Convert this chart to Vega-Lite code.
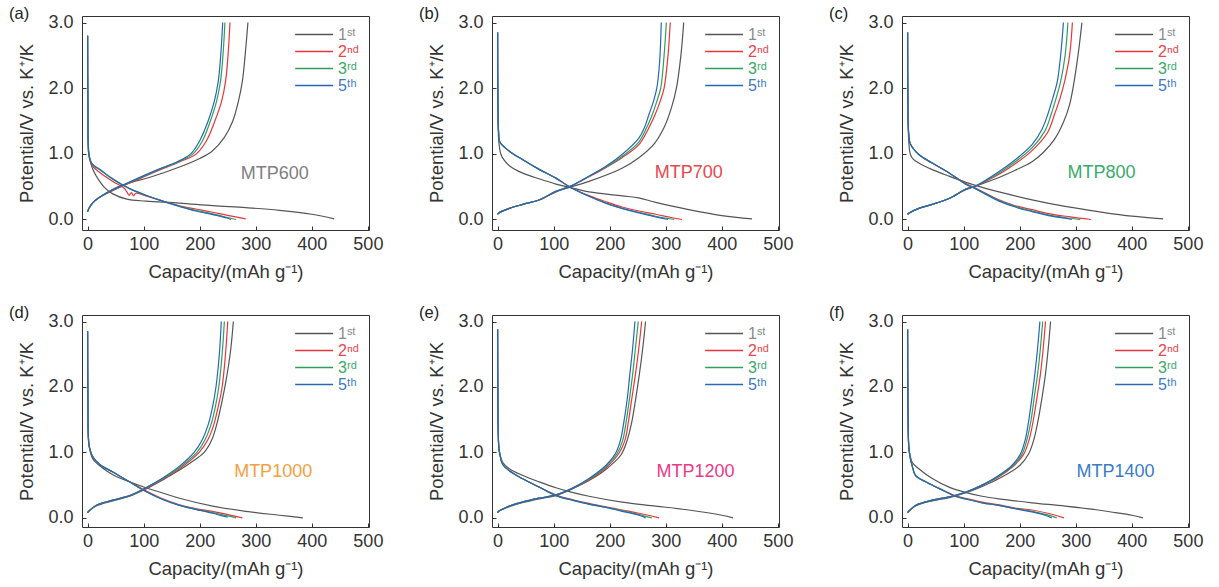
{
"$schema": "https://vega.github.io/schema/vega-lite/v6.json",
"padding": {"left": 8, "top": 5, "right": 4, "bottom": 4},
"background": "white",
"data": {"values": [
{"p":"a","c":"1st","s":"d","x":0,"y":2.8},{"p":"a","c":"1st","s":"d","x":0.5,"y":1.8},{"p":"a","c":"1st","s":"d","x":2,"y":1.05},{"p":"a","c":"1st","s":"d","x":5,"y":0.88},{"p":"a","c":"1st","s":"d","x":10,"y":0.75},{"p":"a","c":"1st","s":"d","x":20,"y":0.6},{"p":"a","c":"1st","s":"d","x":30,"y":0.49},{"p":"a","c":"1st","s":"d","x":45,"y":0.39},{"p":"a","c":"1st","s":"d","x":70,"y":0.31},{"p":"a","c":"1st","s":"d","x":104,"y":0.28},{"p":"a","c":"1st","s":"d","x":164,"y":0.25},{"p":"a","c":"1st","s":"d","x":223,"y":0.21},{"p":"a","c":"1st","s":"d","x":282,"y":0.18},{"p":"a","c":"1st","s":"d","x":342,"y":0.14},{"p":"a","c":"1st","s":"d","x":400,"y":0.08},{"p":"a","c":"1st","s":"d","x":440,"y":0.01},
{"p":"a","c":"2nd","s":"d","x":0,"y":2.8},{"p":"a","c":"2nd","s":"d","x":0.5,"y":1.7},{"p":"a","c":"2nd","s":"d","x":2,"y":1.0},{"p":"a","c":"2nd","s":"d","x":5,"y":0.88},{"p":"a","c":"2nd","s":"d","x":10,"y":0.8},{"p":"a","c":"2nd","s":"d","x":21,"y":0.72},{"p":"a","c":"2nd","s":"d","x":45,"y":0.58},{"p":"a","c":"2nd","s":"d","x":65,"y":0.48},{"p":"a","c":"2nd","s":"d","x":70,"y":0.42},{"p":"a","c":"2nd","s":"d","x":74,"y":0.37},{"p":"a","c":"2nd","s":"d","x":78,"y":0.41},{"p":"a","c":"2nd","s":"d","x":82,"y":0.36},{"p":"a","c":"2nd","s":"d","x":86,"y":0.4},{"p":"a","c":"2nd","s":"d","x":104,"y":0.36},{"p":"a","c":"2nd","s":"d","x":134,"y":0.28},{"p":"a","c":"2nd","s":"d","x":164,"y":0.21},{"p":"a","c":"2nd","s":"d","x":193,"y":0.16},{"p":"a","c":"2nd","s":"d","x":223,"y":0.11},{"p":"a","c":"2nd","s":"d","x":252,"y":0.06},{"p":"a","c":"2nd","s":"d","x":282,"y":0.01},
{"p":"a","c":"3rd","s":"d","x":0,"y":2.8},{"p":"a","c":"3rd","s":"d","x":0.5,"y":1.7},{"p":"a","c":"3rd","s":"d","x":2,"y":1.0},{"p":"a","c":"3rd","s":"d","x":5,"y":0.9},{"p":"a","c":"3rd","s":"d","x":10,"y":0.82},{"p":"a","c":"3rd","s":"d","x":21,"y":0.76},{"p":"a","c":"3rd","s":"d","x":45,"y":0.61},{"p":"a","c":"3rd","s":"d","x":75,"y":0.47},{"p":"a","c":"3rd","s":"d","x":104,"y":0.37},{"p":"a","c":"3rd","s":"d","x":134,"y":0.28},{"p":"a","c":"3rd","s":"d","x":164,"y":0.2},{"p":"a","c":"3rd","s":"d","x":193,"y":0.14},{"p":"a","c":"3rd","s":"d","x":223,"y":0.085},{"p":"a","c":"3rd","s":"d","x":250,"y":0.03},{"p":"a","c":"3rd","s":"d","x":265,"y":0.0},
{"p":"a","c":"5th","s":"d","x":0,"y":2.8},{"p":"a","c":"5th","s":"d","x":0.5,"y":1.7},{"p":"a","c":"5th","s":"d","x":2,"y":1.0},{"p":"a","c":"5th","s":"d","x":5,"y":0.9},{"p":"a","c":"5th","s":"d","x":10,"y":0.83},{"p":"a","c":"5th","s":"d","x":21,"y":0.77},{"p":"a","c":"5th","s":"d","x":45,"y":0.62},{"p":"a","c":"5th","s":"d","x":75,"y":0.47},{"p":"a","c":"5th","s":"d","x":104,"y":0.37},{"p":"a","c":"5th","s":"d","x":134,"y":0.28},{"p":"a","c":"5th","s":"d","x":164,"y":0.2},{"p":"a","c":"5th","s":"d","x":193,"y":0.13},{"p":"a","c":"5th","s":"d","x":223,"y":0.075},{"p":"a","c":"5th","s":"d","x":245,"y":0.03},{"p":"a","c":"5th","s":"d","x":256,"y":0.0},
{"p":"a","c":"1st","s":"c","x":0,"y":0.12},{"p":"a","c":"1st","s":"c","x":3,"y":0.18},{"p":"a","c":"1st","s":"c","x":10,"y":0.26},{"p":"a","c":"1st","s":"c","x":20,"y":0.33},{"p":"a","c":"1st","s":"c","x":45,"y":0.46},{"p":"a","c":"1st","s":"c","x":72,"y":0.55},{"p":"a","c":"1st","s":"c","x":110,"y":0.64},{"p":"a","c":"1st","s":"c","x":164,"y":0.8},{"p":"a","c":"1st","s":"c","x":200,"y":0.93},{"p":"a","c":"1st","s":"c","x":222,"y":1.04},{"p":"a","c":"1st","s":"c","x":244,"y":1.25},{"p":"a","c":"1st","s":"c","x":259,"y":1.5},{"p":"a","c":"1st","s":"c","x":269,"y":1.8},{"p":"a","c":"1st","s":"c","x":276,"y":2.1},{"p":"a","c":"1st","s":"c","x":281,"y":2.5},{"p":"a","c":"1st","s":"c","x":286,"y":3.0},
{"p":"a","c":"2nd","s":"c","x":0,"y":0.12},{"p":"a","c":"2nd","s":"c","x":3,"y":0.18},{"p":"a","c":"2nd","s":"c","x":10,"y":0.26},{"p":"a","c":"2nd","s":"c","x":20,"y":0.33},{"p":"a","c":"2nd","s":"c","x":40,"y":0.42},{"p":"a","c":"2nd","s":"c","x":60,"y":0.5},{"p":"a","c":"2nd","s":"c","x":95,"y":0.63},{"p":"a","c":"2nd","s":"c","x":130,"y":0.76},{"p":"a","c":"2nd","s":"c","x":165,"y":0.88},{"p":"a","c":"2nd","s":"c","x":194,"y":1.0},{"p":"a","c":"2nd","s":"c","x":212,"y":1.2},{"p":"a","c":"2nd","s":"c","x":227,"y":1.5},{"p":"a","c":"2nd","s":"c","x":239,"y":1.8},{"p":"a","c":"2nd","s":"c","x":246,"y":2.1},{"p":"a","c":"2nd","s":"c","x":250.5,"y":2.5},{"p":"a","c":"2nd","s":"c","x":254,"y":3.0},
{"p":"a","c":"3rd","s":"c","x":0,"y":0.12},{"p":"a","c":"3rd","s":"c","x":3,"y":0.18},{"p":"a","c":"3rd","s":"c","x":10,"y":0.26},{"p":"a","c":"3rd","s":"c","x":20,"y":0.33},{"p":"a","c":"3rd","s":"c","x":40,"y":0.43},{"p":"a","c":"3rd","s":"c","x":58,"y":0.5},{"p":"a","c":"3rd","s":"c","x":92,"y":0.63},{"p":"a","c":"3rd","s":"c","x":127,"y":0.76},{"p":"a","c":"3rd","s":"c","x":162,"y":0.88},{"p":"a","c":"3rd","s":"c","x":188,"y":1.0},{"p":"a","c":"3rd","s":"c","x":205,"y":1.2},{"p":"a","c":"3rd","s":"c","x":219,"y":1.5},{"p":"a","c":"3rd","s":"c","x":230,"y":1.8},{"p":"a","c":"3rd","s":"c","x":237,"y":2.1},{"p":"a","c":"3rd","s":"c","x":241.5,"y":2.5},{"p":"a","c":"3rd","s":"c","x":245,"y":3.0},
{"p":"a","c":"5th","s":"c","x":0,"y":0.12},{"p":"a","c":"5th","s":"c","x":3,"y":0.18},{"p":"a","c":"5th","s":"c","x":10,"y":0.26},{"p":"a","c":"5th","s":"c","x":20,"y":0.33},{"p":"a","c":"5th","s":"c","x":40,"y":0.43},{"p":"a","c":"5th","s":"c","x":57,"y":0.5},{"p":"a","c":"5th","s":"c","x":90,"y":0.63},{"p":"a","c":"5th","s":"c","x":125,"y":0.76},{"p":"a","c":"5th","s":"c","x":160,"y":0.88},{"p":"a","c":"5th","s":"c","x":184,"y":1.0},{"p":"a","c":"5th","s":"c","x":200,"y":1.2},{"p":"a","c":"5th","s":"c","x":215,"y":1.5},{"p":"a","c":"5th","s":"c","x":226,"y":1.8},{"p":"a","c":"5th","s":"c","x":233,"y":2.1},{"p":"a","c":"5th","s":"c","x":237.5,"y":2.5},{"p":"a","c":"5th","s":"c","x":241,"y":3.0},

{"p":"b","c":"1st","s":"d","x":0,"y":2.85},{"p":"b","c":"1st","s":"d","x":0.5,"y":1.8},{"p":"b","c":"1st","s":"d","x":2,"y":1.2},{"p":"b","c":"1st","s":"d","x":6,"y":0.99},{"p":"b","c":"1st","s":"d","x":12,"y":0.9},{"p":"b","c":"1st","s":"d","x":21,"y":0.82},{"p":"b","c":"1st","s":"d","x":44,"y":0.71},{"p":"b","c":"1st","s":"d","x":74,"y":0.62},{"p":"b","c":"1st","s":"d","x":104,"y":0.54},{"p":"b","c":"1st","s":"d","x":128,"y":0.49},{"p":"b","c":"1st","s":"d","x":163,"y":0.42},{"p":"b","c":"1st","s":"d","x":222,"y":0.36},{"p":"b","c":"1st","s":"d","x":252,"y":0.33},{"p":"b","c":"1st","s":"d","x":282,"y":0.26},{"p":"b","c":"1st","s":"d","x":341,"y":0.15},{"p":"b","c":"1st","s":"d","x":400,"y":0.06},{"p":"b","c":"1st","s":"d","x":454,"y":0.01},
{"p":"b","c":"2nd","s":"d","x":0,"y":2.85},{"p":"b","c":"2nd","s":"d","x":0.5,"y":1.8},{"p":"b","c":"2nd","s":"d","x":2,"y":1.3},{"p":"b","c":"2nd","s":"d","x":4,"y":1.18},{"p":"b","c":"2nd","s":"d","x":21,"y":1.04},{"p":"b","c":"2nd","s":"d","x":45,"y":0.91},{"p":"b","c":"2nd","s":"d","x":75,"y":0.76},{"p":"b","c":"2nd","s":"d","x":104,"y":0.63},{"p":"b","c":"2nd","s":"d","x":128,"y":0.5},{"p":"b","c":"2nd","s":"d","x":164,"y":0.36},{"p":"b","c":"2nd","s":"d","x":193,"y":0.27},{"p":"b","c":"2nd","s":"d","x":222,"y":0.19},{"p":"b","c":"2nd","s":"d","x":252,"y":0.13},{"p":"b","c":"2nd","s":"d","x":282,"y":0.08},{"p":"b","c":"2nd","s":"d","x":310,"y":0.03},{"p":"b","c":"2nd","s":"d","x":329,"y":0.0},
{"p":"b","c":"3rd","s":"d","x":0,"y":2.85},{"p":"b","c":"3rd","s":"d","x":0.5,"y":1.8},{"p":"b","c":"3rd","s":"d","x":2,"y":1.3},{"p":"b","c":"3rd","s":"d","x":4,"y":1.18},{"p":"b","c":"3rd","s":"d","x":21,"y":1.04},{"p":"b","c":"3rd","s":"d","x":45,"y":0.91},{"p":"b","c":"3rd","s":"d","x":75,"y":0.76},{"p":"b","c":"3rd","s":"d","x":104,"y":0.63},{"p":"b","c":"3rd","s":"d","x":128,"y":0.5},{"p":"b","c":"3rd","s":"d","x":164,"y":0.35},{"p":"b","c":"3rd","s":"d","x":193,"y":0.25},{"p":"b","c":"3rd","s":"d","x":222,"y":0.17},{"p":"b","c":"3rd","s":"d","x":252,"y":0.11},{"p":"b","c":"3rd","s":"d","x":282,"y":0.05},{"p":"b","c":"3rd","s":"d","x":315,"y":0.0},
{"p":"b","c":"5th","s":"d","x":0,"y":2.85},{"p":"b","c":"5th","s":"d","x":0.5,"y":1.8},{"p":"b","c":"5th","s":"d","x":2,"y":1.3},{"p":"b","c":"5th","s":"d","x":4,"y":1.18},{"p":"b","c":"5th","s":"d","x":21,"y":1.04},{"p":"b","c":"5th","s":"d","x":45,"y":0.91},{"p":"b","c":"5th","s":"d","x":75,"y":0.76},{"p":"b","c":"5th","s":"d","x":104,"y":0.63},{"p":"b","c":"5th","s":"d","x":128,"y":0.5},{"p":"b","c":"5th","s":"d","x":164,"y":0.35},{"p":"b","c":"5th","s":"d","x":193,"y":0.25},{"p":"b","c":"5th","s":"d","x":222,"y":0.17},{"p":"b","c":"5th","s":"d","x":252,"y":0.1},{"p":"b","c":"5th","s":"d","x":282,"y":0.04},{"p":"b","c":"5th","s":"d","x":304,"y":0.0},
{"p":"b","c":"1st","s":"c","x":0,"y":0.08},{"p":"b","c":"1st","s":"c","x":2,"y":0.1},{"p":"b","c":"1st","s":"c","x":21,"y":0.17},{"p":"b","c":"1st","s":"c","x":45,"y":0.23},{"p":"b","c":"1st","s":"c","x":75,"y":0.3},{"p":"b","c":"1st","s":"c","x":104,"y":0.42},{"p":"b","c":"1st","s":"c","x":128,"y":0.49},{"p":"b","c":"1st","s":"c","x":163,"y":0.58},{"p":"b","c":"1st","s":"c","x":222,"y":0.78},{"p":"b","c":"1st","s":"c","x":252,"y":0.94},{"p":"b","c":"1st","s":"c","x":280,"y":1.16},{"p":"b","c":"1st","s":"c","x":298,"y":1.42},{"p":"b","c":"1st","s":"c","x":310,"y":1.7},{"p":"b","c":"1st","s":"c","x":319,"y":2.0},{"p":"b","c":"1st","s":"c","x":327,"y":2.5},{"p":"b","c":"1st","s":"c","x":332,"y":3.0},
{"p":"b","c":"2nd","s":"c","x":0,"y":0.08},{"p":"b","c":"2nd","s":"c","x":2,"y":0.1},{"p":"b","c":"2nd","s":"c","x":21,"y":0.17},{"p":"b","c":"2nd","s":"c","x":45,"y":0.23},{"p":"b","c":"2nd","s":"c","x":75,"y":0.3},{"p":"b","c":"2nd","s":"c","x":104,"y":0.43},{"p":"b","c":"2nd","s":"c","x":128,"y":0.5},{"p":"b","c":"2nd","s":"c","x":163,"y":0.65},{"p":"b","c":"2nd","s":"c","x":193,"y":0.79},{"p":"b","c":"2nd","s":"c","x":222,"y":0.94},{"p":"b","c":"2nd","s":"c","x":252,"y":1.14},{"p":"b","c":"2nd","s":"c","x":270,"y":1.4},{"p":"b","c":"2nd","s":"c","x":281,"y":1.6},{"p":"b","c":"2nd","s":"c","x":290,"y":1.8},{"p":"b","c":"2nd","s":"c","x":297,"y":2.0},{"p":"b","c":"2nd","s":"c","x":304,"y":2.5},{"p":"b","c":"2nd","s":"c","x":308,"y":3.0},
{"p":"b","c":"3rd","s":"c","x":0,"y":0.08},{"p":"b","c":"3rd","s":"c","x":2,"y":0.1},{"p":"b","c":"3rd","s":"c","x":21,"y":0.17},{"p":"b","c":"3rd","s":"c","x":45,"y":0.23},{"p":"b","c":"3rd","s":"c","x":75,"y":0.3},{"p":"b","c":"3rd","s":"c","x":104,"y":0.43},{"p":"b","c":"3rd","s":"c","x":128,"y":0.5},{"p":"b","c":"3rd","s":"c","x":163,"y":0.66},{"p":"b","c":"3rd","s":"c","x":193,"y":0.8},{"p":"b","c":"3rd","s":"c","x":222,"y":0.96},{"p":"b","c":"3rd","s":"c","x":252,"y":1.18},{"p":"b","c":"3rd","s":"c","x":266,"y":1.4},{"p":"b","c":"3rd","s":"c","x":276,"y":1.6},{"p":"b","c":"3rd","s":"c","x":284,"y":1.8},{"p":"b","c":"3rd","s":"c","x":291,"y":2.0},{"p":"b","c":"3rd","s":"c","x":297,"y":2.5},{"p":"b","c":"3rd","s":"c","x":301,"y":3.0},
{"p":"b","c":"5th","s":"c","x":0,"y":0.08},{"p":"b","c":"5th","s":"c","x":2,"y":0.1},{"p":"b","c":"5th","s":"c","x":21,"y":0.17},{"p":"b","c":"5th","s":"c","x":45,"y":0.23},{"p":"b","c":"5th","s":"c","x":75,"y":0.3},{"p":"b","c":"5th","s":"c","x":104,"y":0.43},{"p":"b","c":"5th","s":"c","x":128,"y":0.5},{"p":"b","c":"5th","s":"c","x":163,"y":0.66},{"p":"b","c":"5th","s":"c","x":193,"y":0.81},{"p":"b","c":"5th","s":"c","x":222,"y":0.99},{"p":"b","c":"5th","s":"c","x":252,"y":1.24},{"p":"b","c":"5th","s":"c","x":262,"y":1.4},{"p":"b","c":"5th","s":"c","x":270,"y":1.6},{"p":"b","c":"5th","s":"c","x":278,"y":1.8},{"p":"b","c":"5th","s":"c","x":284,"y":2.0},{"p":"b","c":"5th","s":"c","x":289,"y":2.4},{"p":"b","c":"5th","s":"c","x":292,"y":3.0},

{"p":"c","c":"1st","s":"d","x":0,"y":2.85},{"p":"c","c":"1st","s":"d","x":0.5,"y":1.8},{"p":"c","c":"1st","s":"d","x":2,"y":1.2},{"p":"c","c":"1st","s":"d","x":5,"y":0.99},{"p":"c","c":"1st","s":"d","x":10,"y":0.92},{"p":"c","c":"1st","s":"d","x":20,"y":0.86},{"p":"c","c":"1st","s":"d","x":44,"y":0.76},{"p":"c","c":"1st","s":"d","x":74,"y":0.66},{"p":"c","c":"1st","s":"d","x":103,"y":0.57},{"p":"c","c":"1st","s":"d","x":133,"y":0.49},{"p":"c","c":"1st","s":"d","x":163,"y":0.42},{"p":"c","c":"1st","s":"d","x":222,"y":0.3},{"p":"c","c":"1st","s":"d","x":281,"y":0.2},{"p":"c","c":"1st","s":"d","x":340,"y":0.12},{"p":"c","c":"1st","s":"d","x":400,"y":0.05},{"p":"c","c":"1st","s":"d","x":456,"y":0.01},
{"p":"c","c":"2nd","s":"d","x":0,"y":2.85},{"p":"c","c":"2nd","s":"d","x":0.5,"y":1.8},{"p":"c","c":"2nd","s":"d","x":2,"y":1.3},{"p":"c","c":"2nd","s":"d","x":5,"y":1.15},{"p":"c","c":"2nd","s":"d","x":20,"y":0.99},{"p":"c","c":"2nd","s":"d","x":44,"y":0.86},{"p":"c","c":"2nd","s":"d","x":74,"y":0.71},{"p":"c","c":"2nd","s":"d","x":103,"y":0.55},{"p":"c","c":"2nd","s":"d","x":121,"y":0.48},{"p":"c","c":"2nd","s":"d","x":163,"y":0.3},{"p":"c","c":"2nd","s":"d","x":192,"y":0.21},{"p":"c","c":"2nd","s":"d","x":222,"y":0.15},{"p":"c","c":"2nd","s":"d","x":251,"y":0.09},{"p":"c","c":"2nd","s":"d","x":290,"y":0.04},{"p":"c","c":"2nd","s":"d","x":327,"y":0.0},
{"p":"c","c":"3rd","s":"d","x":0,"y":2.85},{"p":"c","c":"3rd","s":"d","x":0.5,"y":1.8},{"p":"c","c":"3rd","s":"d","x":2,"y":1.3},{"p":"c","c":"3rd","s":"d","x":5,"y":1.15},{"p":"c","c":"3rd","s":"d","x":20,"y":0.99},{"p":"c","c":"3rd","s":"d","x":44,"y":0.86},{"p":"c","c":"3rd","s":"d","x":74,"y":0.71},{"p":"c","c":"3rd","s":"d","x":103,"y":0.54},{"p":"c","c":"3rd","s":"d","x":121,"y":0.47},{"p":"c","c":"3rd","s":"d","x":163,"y":0.29},{"p":"c","c":"3rd","s":"d","x":192,"y":0.2},{"p":"c","c":"3rd","s":"d","x":222,"y":0.13},{"p":"c","c":"3rd","s":"d","x":251,"y":0.07},{"p":"c","c":"3rd","s":"d","x":280,"y":0.03},{"p":"c","c":"3rd","s":"d","x":308,"y":0.0},
{"p":"c","c":"5th","s":"d","x":0,"y":2.85},{"p":"c","c":"5th","s":"d","x":0.5,"y":1.8},{"p":"c","c":"5th","s":"d","x":2,"y":1.3},{"p":"c","c":"5th","s":"d","x":5,"y":1.15},{"p":"c","c":"5th","s":"d","x":20,"y":0.99},{"p":"c","c":"5th","s":"d","x":44,"y":0.86},{"p":"c","c":"5th","s":"d","x":74,"y":0.71},{"p":"c","c":"5th","s":"d","x":103,"y":0.54},{"p":"c","c":"5th","s":"d","x":121,"y":0.47},{"p":"c","c":"5th","s":"d","x":163,"y":0.28},{"p":"c","c":"5th","s":"d","x":192,"y":0.19},{"p":"c","c":"5th","s":"d","x":222,"y":0.12},{"p":"c","c":"5th","s":"d","x":251,"y":0.06},{"p":"c","c":"5th","s":"d","x":280,"y":0.02},{"p":"c","c":"5th","s":"d","x":293,"y":0.0},
{"p":"c","c":"1st","s":"c","x":0,"y":0.08},{"p":"c","c":"1st","s":"c","x":3,"y":0.1},{"p":"c","c":"1st","s":"c","x":20,"y":0.17},{"p":"c","c":"1st","s":"c","x":44,"y":0.23},{"p":"c","c":"1st","s":"c","x":74,"y":0.32},{"p":"c","c":"1st","s":"c","x":103,"y":0.45},{"p":"c","c":"1st","s":"c","x":125,"y":0.52},{"p":"c","c":"1st","s":"c","x":163,"y":0.64},{"p":"c","c":"1st","s":"c","x":192,"y":0.75},{"p":"c","c":"1st","s":"c","x":222,"y":0.88},{"p":"c","c":"1st","s":"c","x":242,"y":1.02},{"p":"c","c":"1st","s":"c","x":262,"y":1.22},{"p":"c","c":"1st","s":"c","x":278,"y":1.48},{"p":"c","c":"1st","s":"c","x":289,"y":1.75},{"p":"c","c":"1st","s":"c","x":296,"y":2.05},{"p":"c","c":"1st","s":"c","x":304,"y":2.5},{"p":"c","c":"1st","s":"c","x":311,"y":3.0},
{"p":"c","c":"2nd","s":"c","x":0,"y":0.08},{"p":"c","c":"2nd","s":"c","x":3,"y":0.1},{"p":"c","c":"2nd","s":"c","x":20,"y":0.17},{"p":"c","c":"2nd","s":"c","x":44,"y":0.23},{"p":"c","c":"2nd","s":"c","x":74,"y":0.32},{"p":"c","c":"2nd","s":"c","x":103,"y":0.46},{"p":"c","c":"2nd","s":"c","x":121,"y":0.51},{"p":"c","c":"2nd","s":"c","x":163,"y":0.69},{"p":"c","c":"2nd","s":"c","x":192,"y":0.85},{"p":"c","c":"2nd","s":"c","x":222,"y":1.05},{"p":"c","c":"2nd","s":"c","x":250,"y":1.33},{"p":"c","c":"2nd","s":"c","x":262,"y":1.6},{"p":"c","c":"2nd","s":"c","x":272,"y":1.85},{"p":"c","c":"2nd","s":"c","x":280,"y":2.1},{"p":"c","c":"2nd","s":"c","x":289,"y":2.5},{"p":"c","c":"2nd","s":"c","x":294,"y":3.0},
{"p":"c","c":"3rd","s":"c","x":0,"y":0.08},{"p":"c","c":"3rd","s":"c","x":3,"y":0.1},{"p":"c","c":"3rd","s":"c","x":20,"y":0.17},{"p":"c","c":"3rd","s":"c","x":44,"y":0.23},{"p":"c","c":"3rd","s":"c","x":74,"y":0.32},{"p":"c","c":"3rd","s":"c","x":103,"y":0.46},{"p":"c","c":"3rd","s":"c","x":121,"y":0.51},{"p":"c","c":"3rd","s":"c","x":163,"y":0.71},{"p":"c","c":"3rd","s":"c","x":192,"y":0.88},{"p":"c","c":"3rd","s":"c","x":222,"y":1.09},{"p":"c","c":"3rd","s":"c","x":245,"y":1.35},{"p":"c","c":"3rd","s":"c","x":256,"y":1.6},{"p":"c","c":"3rd","s":"c","x":265,"y":1.85},{"p":"c","c":"3rd","s":"c","x":273,"y":2.1},{"p":"c","c":"3rd","s":"c","x":281,"y":2.5},{"p":"c","c":"3rd","s":"c","x":286,"y":3.0},
{"p":"c","c":"5th","s":"c","x":0,"y":0.08},{"p":"c","c":"5th","s":"c","x":3,"y":0.1},{"p":"c","c":"5th","s":"c","x":20,"y":0.17},{"p":"c","c":"5th","s":"c","x":44,"y":0.23},{"p":"c","c":"5th","s":"c","x":74,"y":0.32},{"p":"c","c":"5th","s":"c","x":103,"y":0.46},{"p":"c","c":"5th","s":"c","x":121,"y":0.51},{"p":"c","c":"5th","s":"c","x":163,"y":0.73},{"p":"c","c":"5th","s":"c","x":192,"y":0.91},{"p":"c","c":"5th","s":"c","x":222,"y":1.14},{"p":"c","c":"5th","s":"c","x":240,"y":1.38},{"p":"c","c":"5th","s":"c","x":250,"y":1.6},{"p":"c","c":"5th","s":"c","x":259,"y":1.85},{"p":"c","c":"5th","s":"c","x":267,"y":2.1},{"p":"c","c":"5th","s":"c","x":273,"y":2.5},{"p":"c","c":"5th","s":"c","x":278,"y":3.0},

{"p":"d","c":"1st","s":"d","x":0,"y":2.85},{"p":"d","c":"1st","s":"d","x":0.5,"y":1.8},{"p":"d","c":"1st","s":"d","x":2,"y":1.15},{"p":"d","c":"1st","s":"d","x":5,"y":1.0},{"p":"d","c":"1st","s":"d","x":9.5,"y":0.9},{"p":"d","c":"1st","s":"d","x":21,"y":0.8},{"p":"d","c":"1st","s":"d","x":45,"y":0.66},{"p":"d","c":"1st","s":"d","x":75,"y":0.55},{"p":"d","c":"1st","s":"d","x":104,"y":0.46},{"p":"d","c":"1st","s":"d","x":134,"y":0.38},{"p":"d","c":"1st","s":"d","x":164,"y":0.3},{"p":"d","c":"1st","s":"d","x":223,"y":0.18},{"p":"d","c":"1st","s":"d","x":282,"y":0.1},{"p":"d","c":"1st","s":"d","x":342,"y":0.04},{"p":"d","c":"1st","s":"d","x":384,"y":0.0},
{"p":"d","c":"2nd","s":"d","x":0,"y":2.85},{"p":"d","c":"2nd","s":"d","x":0.5,"y":1.8},{"p":"d","c":"2nd","s":"d","x":2,"y":1.15},{"p":"d","c":"2nd","s":"d","x":5,"y":1.02},{"p":"d","c":"2nd","s":"d","x":9.5,"y":0.93},{"p":"d","c":"2nd","s":"d","x":21,"y":0.82},{"p":"d","c":"2nd","s":"d","x":45,"y":0.7},{"p":"d","c":"2nd","s":"d","x":75,"y":0.55},{"p":"d","c":"2nd","s":"d","x":98,"y":0.44},{"p":"d","c":"2nd","s":"d","x":134,"y":0.29},{"p":"d","c":"2nd","s":"d","x":164,"y":0.2},{"p":"d","c":"2nd","s":"d","x":193,"y":0.14},{"p":"d","c":"2nd","s":"d","x":223,"y":0.1},{"p":"d","c":"2nd","s":"d","x":250,"y":0.05},{"p":"d","c":"2nd","s":"d","x":276,"y":0.0},
{"p":"d","c":"3rd","s":"d","x":0,"y":2.85},{"p":"d","c":"3rd","s":"d","x":0.5,"y":1.8},{"p":"d","c":"3rd","s":"d","x":2,"y":1.15},{"p":"d","c":"3rd","s":"d","x":5,"y":1.02},{"p":"d","c":"3rd","s":"d","x":9.5,"y":0.93},{"p":"d","c":"3rd","s":"d","x":21,"y":0.82},{"p":"d","c":"3rd","s":"d","x":45,"y":0.7},{"p":"d","c":"3rd","s":"d","x":75,"y":0.55},{"p":"d","c":"3rd","s":"d","x":98,"y":0.43},{"p":"d","c":"3rd","s":"d","x":134,"y":0.28},{"p":"d","c":"3rd","s":"d","x":164,"y":0.19},{"p":"d","c":"3rd","s":"d","x":193,"y":0.13},{"p":"d","c":"3rd","s":"d","x":223,"y":0.08},{"p":"d","c":"3rd","s":"d","x":250,"y":0.03},{"p":"d","c":"3rd","s":"d","x":265,"y":0.0},
{"p":"d","c":"5th","s":"d","x":0,"y":2.85},{"p":"d","c":"5th","s":"d","x":0.5,"y":1.8},{"p":"d","c":"5th","s":"d","x":2,"y":1.15},{"p":"d","c":"5th","s":"d","x":5,"y":1.02},{"p":"d","c":"5th","s":"d","x":9.5,"y":0.93},{"p":"d","c":"5th","s":"d","x":21,"y":0.82},{"p":"d","c":"5th","s":"d","x":45,"y":0.7},{"p":"d","c":"5th","s":"d","x":75,"y":0.55},{"p":"d","c":"5th","s":"d","x":98,"y":0.43},{"p":"d","c":"5th","s":"d","x":134,"y":0.28},{"p":"d","c":"5th","s":"d","x":164,"y":0.19},{"p":"d","c":"5th","s":"d","x":193,"y":0.13},{"p":"d","c":"5th","s":"d","x":223,"y":0.07},{"p":"d","c":"5th","s":"d","x":240,"y":0.03},{"p":"d","c":"5th","s":"d","x":250,"y":0.01},
{"p":"d","c":"1st","s":"c","x":0,"y":0.08},{"p":"d","c":"1st","s":"c","x":2,"y":0.1},{"p":"d","c":"1st","s":"c","x":15,"y":0.18},{"p":"d","c":"1st","s":"c","x":45,"y":0.26},{"p":"d","c":"1st","s":"c","x":75,"y":0.33},{"p":"d","c":"1st","s":"c","x":104,"y":0.44},{"p":"d","c":"1st","s":"c","x":134,"y":0.58},{"p":"d","c":"1st","s":"c","x":164,"y":0.73},{"p":"d","c":"1st","s":"c","x":190,"y":0.88},{"p":"d","c":"1st","s":"c","x":208,"y":1.0},{"p":"d","c":"1st","s":"c","x":222,"y":1.2},{"p":"d","c":"1st","s":"c","x":231,"y":1.45},{"p":"d","c":"1st","s":"c","x":239,"y":1.75},{"p":"d","c":"1st","s":"c","x":247,"y":2.1},{"p":"d","c":"1st","s":"c","x":255,"y":2.55},{"p":"d","c":"1st","s":"c","x":260,"y":3.0},
{"p":"d","c":"2nd","s":"c","x":0,"y":0.08},{"p":"d","c":"2nd","s":"c","x":2,"y":0.1},{"p":"d","c":"2nd","s":"c","x":15,"y":0.19},{"p":"d","c":"2nd","s":"c","x":45,"y":0.27},{"p":"d","c":"2nd","s":"c","x":75,"y":0.34},{"p":"d","c":"2nd","s":"c","x":104,"y":0.45},{"p":"d","c":"2nd","s":"c","x":134,"y":0.59},{"p":"d","c":"2nd","s":"c","x":164,"y":0.75},{"p":"d","c":"2nd","s":"c","x":199,"y":1.0},{"p":"d","c":"2nd","s":"c","x":215,"y":1.2},{"p":"d","c":"2nd","s":"c","x":225,"y":1.42},{"p":"d","c":"2nd","s":"c","x":233,"y":1.7},{"p":"d","c":"2nd","s":"c","x":240,"y":2.0},{"p":"d","c":"2nd","s":"c","x":246,"y":2.5},{"p":"d","c":"2nd","s":"c","x":250,"y":3.0},
{"p":"d","c":"3rd","s":"c","x":0,"y":0.08},{"p":"d","c":"3rd","s":"c","x":2,"y":0.1},{"p":"d","c":"3rd","s":"c","x":15,"y":0.19},{"p":"d","c":"3rd","s":"c","x":45,"y":0.27},{"p":"d","c":"3rd","s":"c","x":75,"y":0.34},{"p":"d","c":"3rd","s":"c","x":104,"y":0.46},{"p":"d","c":"3rd","s":"c","x":134,"y":0.6},{"p":"d","c":"3rd","s":"c","x":164,"y":0.77},{"p":"d","c":"3rd","s":"c","x":195,"y":1.0},{"p":"d","c":"3rd","s":"c","x":210,"y":1.2},{"p":"d","c":"3rd","s":"c","x":220,"y":1.42},{"p":"d","c":"3rd","s":"c","x":228,"y":1.7},{"p":"d","c":"3rd","s":"c","x":234,"y":2.0},{"p":"d","c":"3rd","s":"c","x":240,"y":2.5},{"p":"d","c":"3rd","s":"c","x":244,"y":3.0},
{"p":"d","c":"5th","s":"c","x":0,"y":0.08},{"p":"d","c":"5th","s":"c","x":2,"y":0.1},{"p":"d","c":"5th","s":"c","x":15,"y":0.19},{"p":"d","c":"5th","s":"c","x":45,"y":0.27},{"p":"d","c":"5th","s":"c","x":75,"y":0.34},{"p":"d","c":"5th","s":"c","x":104,"y":0.46},{"p":"d","c":"5th","s":"c","x":134,"y":0.61},{"p":"d","c":"5th","s":"c","x":164,"y":0.79},{"p":"d","c":"5th","s":"c","x":190,"y":1.0},{"p":"d","c":"5th","s":"c","x":205,"y":1.2},{"p":"d","c":"5th","s":"c","x":215,"y":1.42},{"p":"d","c":"5th","s":"c","x":223,"y":1.7},{"p":"d","c":"5th","s":"c","x":229,"y":2.0},{"p":"d","c":"5th","s":"c","x":235,"y":2.5},{"p":"d","c":"5th","s":"c","x":238.5,"y":3.0},

{"p":"e","c":"1st","s":"d","x":0,"y":2.88},{"p":"e","c":"1st","s":"d","x":0.5,"y":1.8},{"p":"e","c":"1st","s":"d","x":2,"y":1.1},{"p":"e","c":"1st","s":"d","x":4,"y":0.98},{"p":"e","c":"1st","s":"d","x":9,"y":0.85},{"p":"e","c":"1st","s":"d","x":21,"y":0.75},{"p":"e","c":"1st","s":"d","x":44,"y":0.65},{"p":"e","c":"1st","s":"d","x":74,"y":0.55},{"p":"e","c":"1st","s":"d","x":104,"y":0.46},{"p":"e","c":"1st","s":"d","x":133,"y":0.39},{"p":"e","c":"1st","s":"d","x":163,"y":0.33},{"p":"e","c":"1st","s":"d","x":222,"y":0.24},{"p":"e","c":"1st","s":"d","x":282,"y":0.18},{"p":"e","c":"1st","s":"d","x":341,"y":0.12},{"p":"e","c":"1st","s":"d","x":400,"y":0.04},{"p":"e","c":"1st","s":"d","x":420,"y":0.0},
{"p":"e","c":"2nd","s":"d","x":0,"y":2.88},{"p":"e","c":"2nd","s":"d","x":0.5,"y":1.8},{"p":"e","c":"2nd","s":"d","x":2,"y":1.1},{"p":"e","c":"2nd","s":"d","x":4,"y":0.97},{"p":"e","c":"2nd","s":"d","x":9,"y":0.82},{"p":"e","c":"2nd","s":"d","x":21,"y":0.72},{"p":"e","c":"2nd","s":"d","x":44,"y":0.6},{"p":"e","c":"2nd","s":"d","x":74,"y":0.47},{"p":"e","c":"2nd","s":"d","x":104,"y":0.35},{"p":"e","c":"2nd","s":"d","x":133,"y":0.28},{"p":"e","c":"2nd","s":"d","x":163,"y":0.22},{"p":"e","c":"2nd","s":"d","x":193,"y":0.17},{"p":"e","c":"2nd","s":"d","x":222,"y":0.12},{"p":"e","c":"2nd","s":"d","x":252,"y":0.07},{"p":"e","c":"2nd","s":"d","x":288,"y":0.0},
{"p":"e","c":"3rd","s":"d","x":0,"y":2.88},{"p":"e","c":"3rd","s":"d","x":0.5,"y":1.8},{"p":"e","c":"3rd","s":"d","x":2,"y":1.1},{"p":"e","c":"3rd","s":"d","x":4,"y":0.97},{"p":"e","c":"3rd","s":"d","x":9,"y":0.82},{"p":"e","c":"3rd","s":"d","x":21,"y":0.72},{"p":"e","c":"3rd","s":"d","x":44,"y":0.6},{"p":"e","c":"3rd","s":"d","x":74,"y":0.47},{"p":"e","c":"3rd","s":"d","x":104,"y":0.34},{"p":"e","c":"3rd","s":"d","x":133,"y":0.27},{"p":"e","c":"3rd","s":"d","x":163,"y":0.21},{"p":"e","c":"3rd","s":"d","x":193,"y":0.16},{"p":"e","c":"3rd","s":"d","x":222,"y":0.11},{"p":"e","c":"3rd","s":"d","x":252,"y":0.05},{"p":"e","c":"3rd","s":"d","x":275,"y":0.0},
{"p":"e","c":"5th","s":"d","x":0,"y":2.88},{"p":"e","c":"5th","s":"d","x":0.5,"y":1.8},{"p":"e","c":"5th","s":"d","x":2,"y":1.1},{"p":"e","c":"5th","s":"d","x":4,"y":0.97},{"p":"e","c":"5th","s":"d","x":9,"y":0.82},{"p":"e","c":"5th","s":"d","x":21,"y":0.72},{"p":"e","c":"5th","s":"d","x":44,"y":0.6},{"p":"e","c":"5th","s":"d","x":74,"y":0.47},{"p":"e","c":"5th","s":"d","x":104,"y":0.34},{"p":"e","c":"5th","s":"d","x":133,"y":0.27},{"p":"e","c":"5th","s":"d","x":163,"y":0.21},{"p":"e","c":"5th","s":"d","x":193,"y":0.16},{"p":"e","c":"5th","s":"d","x":222,"y":0.1},{"p":"e","c":"5th","s":"d","x":252,"y":0.04},{"p":"e","c":"5th","s":"d","x":264,"y":0.0},
{"p":"e","c":"1st","s":"c","x":0,"y":0.08},{"p":"e","c":"1st","s":"c","x":2,"y":0.1},{"p":"e","c":"1st","s":"c","x":21,"y":0.17},{"p":"e","c":"1st","s":"c","x":44,"y":0.23},{"p":"e","c":"1st","s":"c","x":74,"y":0.29},{"p":"e","c":"1st","s":"c","x":104,"y":0.34},{"p":"e","c":"1st","s":"c","x":133,"y":0.44},{"p":"e","c":"1st","s":"c","x":163,"y":0.57},{"p":"e","c":"1st","s":"c","x":193,"y":0.74},{"p":"e","c":"1st","s":"c","x":220,"y":0.96},{"p":"e","c":"1st","s":"c","x":231,"y":1.18},{"p":"e","c":"1st","s":"c","x":239,"y":1.45},{"p":"e","c":"1st","s":"c","x":246,"y":1.8},{"p":"e","c":"1st","s":"c","x":253,"y":2.2},{"p":"e","c":"1st","s":"c","x":259,"y":2.6},{"p":"e","c":"1st","s":"c","x":264,"y":3.0},
{"p":"e","c":"2nd","s":"c","x":0,"y":0.08},{"p":"e","c":"2nd","s":"c","x":2,"y":0.1},{"p":"e","c":"2nd","s":"c","x":21,"y":0.18},{"p":"e","c":"2nd","s":"c","x":44,"y":0.24},{"p":"e","c":"2nd","s":"c","x":74,"y":0.3},{"p":"e","c":"2nd","s":"c","x":104,"y":0.35},{"p":"e","c":"2nd","s":"c","x":133,"y":0.45},{"p":"e","c":"2nd","s":"c","x":163,"y":0.58},{"p":"e","c":"2nd","s":"c","x":193,"y":0.76},{"p":"e","c":"2nd","s":"c","x":216,"y":0.98},{"p":"e","c":"2nd","s":"c","x":227,"y":1.18},{"p":"e","c":"2nd","s":"c","x":233,"y":1.45},{"p":"e","c":"2nd","s":"c","x":239,"y":1.8},{"p":"e","c":"2nd","s":"c","x":246,"y":2.2},{"p":"e","c":"2nd","s":"c","x":252,"y":2.6},{"p":"e","c":"2nd","s":"c","x":257,"y":3.0},
{"p":"e","c":"3rd","s":"c","x":0,"y":0.08},{"p":"e","c":"3rd","s":"c","x":2,"y":0.1},{"p":"e","c":"3rd","s":"c","x":21,"y":0.18},{"p":"e","c":"3rd","s":"c","x":44,"y":0.24},{"p":"e","c":"3rd","s":"c","x":74,"y":0.3},{"p":"e","c":"3rd","s":"c","x":104,"y":0.35},{"p":"e","c":"3rd","s":"c","x":133,"y":0.45},{"p":"e","c":"3rd","s":"c","x":163,"y":0.59},{"p":"e","c":"3rd","s":"c","x":193,"y":0.78},{"p":"e","c":"3rd","s":"c","x":213,"y":0.98},{"p":"e","c":"3rd","s":"c","x":223,"y":1.18},{"p":"e","c":"3rd","s":"c","x":229,"y":1.45},{"p":"e","c":"3rd","s":"c","x":235,"y":1.8},{"p":"e","c":"3rd","s":"c","x":241,"y":2.2},{"p":"e","c":"3rd","s":"c","x":246,"y":2.6},{"p":"e","c":"3rd","s":"c","x":251,"y":3.0},
{"p":"e","c":"5th","s":"c","x":0,"y":0.08},{"p":"e","c":"5th","s":"c","x":2,"y":0.1},{"p":"e","c":"5th","s":"c","x":21,"y":0.18},{"p":"e","c":"5th","s":"c","x":44,"y":0.24},{"p":"e","c":"5th","s":"c","x":74,"y":0.3},{"p":"e","c":"5th","s":"c","x":104,"y":0.35},{"p":"e","c":"5th","s":"c","x":133,"y":0.45},{"p":"e","c":"5th","s":"c","x":163,"y":0.6},{"p":"e","c":"5th","s":"c","x":193,"y":0.8},{"p":"e","c":"5th","s":"c","x":210,"y":0.98},{"p":"e","c":"5th","s":"c","x":219,"y":1.18},{"p":"e","c":"5th","s":"c","x":225,"y":1.45},{"p":"e","c":"5th","s":"c","x":231,"y":1.8},{"p":"e","c":"5th","s":"c","x":236,"y":2.2},{"p":"e","c":"5th","s":"c","x":241,"y":2.6},{"p":"e","c":"5th","s":"c","x":245,"y":3.0},

{"p":"f","c":"1st","s":"d","x":0,"y":2.88},{"p":"f","c":"1st","s":"d","x":0.5,"y":1.8},{"p":"f","c":"1st","s":"d","x":2,"y":1.1},{"p":"f","c":"1st","s":"d","x":4,"y":0.97},{"p":"f","c":"1st","s":"d","x":8,"y":0.85},{"p":"f","c":"1st","s":"d","x":20,"y":0.75},{"p":"f","c":"1st","s":"d","x":44,"y":0.6},{"p":"f","c":"1st","s":"d","x":74,"y":0.47},{"p":"f","c":"1st","s":"d","x":103,"y":0.39},{"p":"f","c":"1st","s":"d","x":133,"y":0.33},{"p":"f","c":"1st","s":"d","x":163,"y":0.29},{"p":"f","c":"1st","s":"d","x":222,"y":0.23},{"p":"f","c":"1st","s":"d","x":281,"y":0.18},{"p":"f","c":"1st","s":"d","x":340,"y":0.12},{"p":"f","c":"1st","s":"d","x":370,"y":0.08},{"p":"f","c":"1st","s":"d","x":400,"y":0.04},{"p":"f","c":"1st","s":"d","x":420,"y":0.0},
{"p":"f","c":"2nd","s":"d","x":0,"y":2.88},{"p":"f","c":"2nd","s":"d","x":0.5,"y":1.8},{"p":"f","c":"2nd","s":"d","x":2,"y":1.1},{"p":"f","c":"2nd","s":"d","x":4,"y":0.95},{"p":"f","c":"2nd","s":"d","x":8,"y":0.8},{"p":"f","c":"2nd","s":"d","x":14,"y":0.65},{"p":"f","c":"2nd","s":"d","x":32,"y":0.55},{"p":"f","c":"2nd","s":"d","x":56,"y":0.45},{"p":"f","c":"2nd","s":"d","x":85,"y":0.34},{"p":"f","c":"2nd","s":"d","x":103,"y":0.3},{"p":"f","c":"2nd","s":"d","x":133,"y":0.24},{"p":"f","c":"2nd","s":"d","x":163,"y":0.2},{"p":"f","c":"2nd","s":"d","x":192,"y":0.15},{"p":"f","c":"2nd","s":"d","x":222,"y":0.12},{"p":"f","c":"2nd","s":"d","x":250,"y":0.07},{"p":"f","c":"2nd","s":"d","x":279,"y":0.0},
{"p":"f","c":"3rd","s":"d","x":0,"y":2.88},{"p":"f","c":"3rd","s":"d","x":0.5,"y":1.8},{"p":"f","c":"3rd","s":"d","x":2,"y":1.1},{"p":"f","c":"3rd","s":"d","x":4,"y":0.95},{"p":"f","c":"3rd","s":"d","x":8,"y":0.8},{"p":"f","c":"3rd","s":"d","x":14,"y":0.65},{"p":"f","c":"3rd","s":"d","x":32,"y":0.55},{"p":"f","c":"3rd","s":"d","x":56,"y":0.45},{"p":"f","c":"3rd","s":"d","x":85,"y":0.33},{"p":"f","c":"3rd","s":"d","x":103,"y":0.29},{"p":"f","c":"3rd","s":"d","x":133,"y":0.23},{"p":"f","c":"3rd","s":"d","x":163,"y":0.19},{"p":"f","c":"3rd","s":"d","x":192,"y":0.14},{"p":"f","c":"3rd","s":"d","x":222,"y":0.1},{"p":"f","c":"3rd","s":"d","x":248,"y":0.05},{"p":"f","c":"3rd","s":"d","x":266,"y":0.0},
{"p":"f","c":"5th","s":"d","x":0,"y":2.88},{"p":"f","c":"5th","s":"d","x":0.5,"y":1.8},{"p":"f","c":"5th","s":"d","x":2,"y":1.1},{"p":"f","c":"5th","s":"d","x":4,"y":0.95},{"p":"f","c":"5th","s":"d","x":8,"y":0.8},{"p":"f","c":"5th","s":"d","x":14,"y":0.65},{"p":"f","c":"5th","s":"d","x":32,"y":0.55},{"p":"f","c":"5th","s":"d","x":56,"y":0.45},{"p":"f","c":"5th","s":"d","x":85,"y":0.33},{"p":"f","c":"5th","s":"d","x":103,"y":0.29},{"p":"f","c":"5th","s":"d","x":133,"y":0.23},{"p":"f","c":"5th","s":"d","x":163,"y":0.19},{"p":"f","c":"5th","s":"d","x":192,"y":0.14},{"p":"f","c":"5th","s":"d","x":222,"y":0.09},{"p":"f","c":"5th","s":"d","x":245,"y":0.04},{"p":"f","c":"5th","s":"d","x":257,"y":0.0},
{"p":"f","c":"1st","s":"c","x":0,"y":0.08},{"p":"f","c":"1st","s":"c","x":2,"y":0.1},{"p":"f","c":"1st","s":"c","x":14,"y":0.18},{"p":"f","c":"1st","s":"c","x":44,"y":0.26},{"p":"f","c":"1st","s":"c","x":74,"y":0.31},{"p":"f","c":"1st","s":"c","x":103,"y":0.38},{"p":"f","c":"1st","s":"c","x":133,"y":0.48},{"p":"f","c":"1st","s":"c","x":163,"y":0.6},{"p":"f","c":"1st","s":"c","x":200,"y":0.8},{"p":"f","c":"1st","s":"c","x":216,"y":0.98},{"p":"f","c":"1st","s":"c","x":226,"y":1.22},{"p":"f","c":"1st","s":"c","x":233,"y":1.5},{"p":"f","c":"1st","s":"c","x":240,"y":1.85},{"p":"f","c":"1st","s":"c","x":246,"y":2.2},{"p":"f","c":"1st","s":"c","x":251,"y":2.6},{"p":"f","c":"1st","s":"c","x":255,"y":3.0},
{"p":"f","c":"2nd","s":"c","x":0,"y":0.08},{"p":"f","c":"2nd","s":"c","x":2,"y":0.1},{"p":"f","c":"2nd","s":"c","x":14,"y":0.19},{"p":"f","c":"2nd","s":"c","x":44,"y":0.27},{"p":"f","c":"2nd","s":"c","x":74,"y":0.32},{"p":"f","c":"2nd","s":"c","x":103,"y":0.39},{"p":"f","c":"2nd","s":"c","x":133,"y":0.5},{"p":"f","c":"2nd","s":"c","x":163,"y":0.63},{"p":"f","c":"2nd","s":"c","x":190,"y":0.8},{"p":"f","c":"2nd","s":"c","x":207,"y":0.97},{"p":"f","c":"2nd","s":"c","x":217,"y":1.2},{"p":"f","c":"2nd","s":"c","x":224,"y":1.48},{"p":"f","c":"2nd","s":"c","x":231,"y":1.85},{"p":"f","c":"2nd","s":"c","x":237,"y":2.2},{"p":"f","c":"2nd","s":"c","x":242,"y":2.6},{"p":"f","c":"2nd","s":"c","x":246,"y":3.0},
{"p":"f","c":"3rd","s":"c","x":0,"y":0.08},{"p":"f","c":"3rd","s":"c","x":2,"y":0.1},{"p":"f","c":"3rd","s":"c","x":14,"y":0.19},{"p":"f","c":"3rd","s":"c","x":44,"y":0.27},{"p":"f","c":"3rd","s":"c","x":74,"y":0.32},{"p":"f","c":"3rd","s":"c","x":103,"y":0.39},{"p":"f","c":"3rd","s":"c","x":133,"y":0.5},{"p":"f","c":"3rd","s":"c","x":163,"y":0.64},{"p":"f","c":"3rd","s":"c","x":188,"y":0.8},{"p":"f","c":"3rd","s":"c","x":204,"y":0.97},{"p":"f","c":"3rd","s":"c","x":213,"y":1.2},{"p":"f","c":"3rd","s":"c","x":220,"y":1.48},{"p":"f","c":"3rd","s":"c","x":226,"y":1.85},{"p":"f","c":"3rd","s":"c","x":232,"y":2.2},{"p":"f","c":"3rd","s":"c","x":237,"y":2.6},{"p":"f","c":"3rd","s":"c","x":241,"y":3.0},
{"p":"f","c":"5th","s":"c","x":0,"y":0.08},{"p":"f","c":"5th","s":"c","x":2,"y":0.1},{"p":"f","c":"5th","s":"c","x":14,"y":0.19},{"p":"f","c":"5th","s":"c","x":44,"y":0.27},{"p":"f","c":"5th","s":"c","x":74,"y":0.32},{"p":"f","c":"5th","s":"c","x":103,"y":0.39},{"p":"f","c":"5th","s":"c","x":133,"y":0.5},{"p":"f","c":"5th","s":"c","x":163,"y":0.65},{"p":"f","c":"5th","s":"c","x":186,"y":0.8},{"p":"f","c":"5th","s":"c","x":201,"y":0.97},{"p":"f","c":"5th","s":"c","x":210,"y":1.2},{"p":"f","c":"5th","s":"c","x":216,"y":1.48},{"p":"f","c":"5th","s":"c","x":222,"y":1.85},{"p":"f","c":"5th","s":"c","x":227,"y":2.2},{"p":"f","c":"5th","s":"c","x":232,"y":2.6},{"p":"f","c":"5th","s":"c","x":236,"y":3.0}
]},
"columns": 3,
"spacing": {"row": 23, "column": 34},
"resolve": {"legend": {"stroke": "independent"}},
"concat": [
{"width": 287, "height": 214, "title": "(a)", "transform": [{"filter": "datum.p == 'a'"}],
 "layer": [
  {"mark": {"type": "line", "strokeWidth": 1.2, "interpolate": "catmull-rom"},
   "encoding": {
    "x": {"field": "x", "type": "quantitative", "scale": {"domain": [-10, 502], "nice": false, "zero": false}, "axis": {"title": "Capacity/(mAh g⁻¹)", "values": [0,100,200,300,400,500]}},
    "y": {"field": "y", "type": "quantitative", "scale": {"domain": [-0.16, 3.1], "nice": false, "zero": false}, "axis": {"title": "Potential/V vs. K⁺/K", "values": [0,0.5,1,1.5,2,2.5,3], "format": ".1f"}},
    "stroke": {"field": "c", "type": "nominal", "scale": {"domain": ["1st","2nd","3rd","5th"], "range": ["#555555","#e8353b","#2f9e5c","#2766b8"]},
      "legend": {"labelExpr": "datum.label == '1st' ? '1ˢᵗ' : datum.label == '2nd' ? '2ⁿᵈ' : datum.label == '3rd' ? '3ʳᵈ' : '5ᵗʰ'", "encoding": {"labels": {"fill": {"condition": [{"test": "datum.value == '2nd'", "value": "#e8474d"},{"test": "datum.value == '3rd'", "value": "#3aa86a"},{"test": "datum.value == '5th'", "value": "#3a78c8"}], "value": "#8a8a8a"}}}}},
    "detail": {"field": "s"}}},
  {"data": {"values": [{"label": "MTP600"}]}, "mark": {"type": "text", "fontSize": 18, "fill": "#808080"}, "encoding": {"text": {"field": "label"}, "x": {"datum": 334}, "y": {"datum": 0.69}}}
 ]},
{"width": 287, "height": 214, "title": "(b)", "transform": [{"filter": "datum.p == 'b'"}],
 "layer": [
  {"mark": {"type": "line", "strokeWidth": 1.2, "interpolate": "catmull-rom"},
   "encoding": {
    "x": {"field": "x", "type": "quantitative", "scale": {"domain": [-10, 502], "nice": false, "zero": false}, "axis": {"title": "Capacity/(mAh g⁻¹)", "values": [0,100,200,300,400,500]}},
    "y": {"field": "y", "type": "quantitative", "scale": {"domain": [-0.16, 3.1], "nice": false, "zero": false}, "axis": {"title": "Potential/V vs. K⁺/K", "values": [0,0.5,1,1.5,2,2.5,3], "format": ".1f"}},
    "stroke": {"field": "c", "type": "nominal", "scale": {"domain": ["1st","2nd","3rd","5th"], "range": ["#555555","#e8353b","#2f9e5c","#2766b8"]},
      "legend": {"labelExpr": "datum.label == '1st' ? '1ˢᵗ' : datum.label == '2nd' ? '2ⁿᵈ' : datum.label == '3rd' ? '3ʳᵈ' : '5ᵗʰ'", "encoding": {"labels": {"fill": {"condition": [{"test": "datum.value == '2nd'", "value": "#e8474d"},{"test": "datum.value == '3rd'", "value": "#3aa86a"},{"test": "datum.value == '5th'", "value": "#3a78c8"}], "value": "#8a8a8a"}}}}},
    "detail": {"field": "s"}}},
  {"data": {"values": [{"label": "MTP700"}]}, "mark": {"type": "text", "fontSize": 18, "fill": "#e8474d"}, "encoding": {"text": {"field": "label"}, "x": {"datum": 341}, "y": {"datum": 0.71}}}
 ]},
{"width": 287, "height": 214, "title": "(c)", "transform": [{"filter": "datum.p == 'c'"}],
 "layer": [
  {"mark": {"type": "line", "strokeWidth": 1.2, "interpolate": "catmull-rom"},
   "encoding": {
    "x": {"field": "x", "type": "quantitative", "scale": {"domain": [-10, 502], "nice": false, "zero": false}, "axis": {"title": "Capacity/(mAh g⁻¹)", "values": [0,100,200,300,400,500]}},
    "y": {"field": "y", "type": "quantitative", "scale": {"domain": [-0.16, 3.1], "nice": false, "zero": false}, "axis": {"title": "Potential/V vs. K⁺/K", "values": [0,0.5,1,1.5,2,2.5,3], "format": ".1f"}},
    "stroke": {"field": "c", "type": "nominal", "scale": {"domain": ["1st","2nd","3rd","5th"], "range": ["#555555","#e8353b","#2f9e5c","#2766b8"]},
      "legend": {"labelExpr": "datum.label == '1st' ? '1ˢᵗ' : datum.label == '2nd' ? '2ⁿᵈ' : datum.label == '3rd' ? '3ʳᵈ' : '5ᵗʰ'", "encoding": {"labels": {"fill": {"condition": [{"test": "datum.value == '2nd'", "value": "#e8474d"},{"test": "datum.value == '3rd'", "value": "#3aa86a"},{"test": "datum.value == '5th'", "value": "#3a78c8"}], "value": "#8a8a8a"}}}}},
    "detail": {"field": "s"}}},
  {"data": {"values": [{"label": "MTP800"}]}, "mark": {"type": "text", "fontSize": 18, "fill": "#3aab6c"}, "encoding": {"text": {"field": "label"}, "x": {"datum": 346}, "y": {"datum": 0.71}}}
 ]},
{"width": 287, "height": 212, "title": "(d)", "transform": [{"filter": "datum.p == 'd'"}],
 "layer": [
  {"mark": {"type": "line", "strokeWidth": 1.2, "interpolate": "catmull-rom"},
   "encoding": {
    "x": {"field": "x", "type": "quantitative", "scale": {"domain": [-10, 502], "nice": false, "zero": false}, "axis": {"title": "Capacity/(mAh g⁻¹)", "values": [0,100,200,300,400,500]}},
    "y": {"field": "y", "type": "quantitative", "scale": {"domain": [-0.14, 3.1], "nice": false, "zero": false}, "axis": {"title": "Potential/V vs. K⁺/K", "values": [0,0.5,1,1.5,2,2.5,3], "format": ".1f"}},
    "stroke": {"field": "c", "type": "nominal", "scale": {"domain": ["1st","2nd","3rd","5th"], "range": ["#555555","#e8353b","#2f9e5c","#2766b8"]},
      "legend": {"labelExpr": "datum.label == '1st' ? '1ˢᵗ' : datum.label == '2nd' ? '2ⁿᵈ' : datum.label == '3rd' ? '3ʳᵈ' : '5ᵗʰ'", "encoding": {"labels": {"fill": {"condition": [{"test": "datum.value == '2nd'", "value": "#e8474d"},{"test": "datum.value == '3rd'", "value": "#3aa86a"},{"test": "datum.value == '5th'", "value": "#3a78c8"}], "value": "#8a8a8a"}}}}},
    "detail": {"field": "s"}}},
  {"data": {"values": [{"label": "MTP1000"}]}, "mark": {"type": "text", "fontSize": 18, "fill": "#f5a03e"}, "encoding": {"text": {"field": "label"}, "x": {"datum": 331}, "y": {"datum": 0.7}}}
 ]},
{"width": 287, "height": 212, "title": "(e)", "transform": [{"filter": "datum.p == 'e'"}],
 "layer": [
  {"mark": {"type": "line", "strokeWidth": 1.2, "interpolate": "catmull-rom"},
   "encoding": {
    "x": {"field": "x", "type": "quantitative", "scale": {"domain": [-10, 502], "nice": false, "zero": false}, "axis": {"title": "Capacity/(mAh g⁻¹)", "values": [0,100,200,300,400,500]}},
    "y": {"field": "y", "type": "quantitative", "scale": {"domain": [-0.14, 3.1], "nice": false, "zero": false}, "axis": {"title": "Potential/V vs. K⁺/K", "values": [0,0.5,1,1.5,2,2.5,3], "format": ".1f"}},
    "stroke": {"field": "c", "type": "nominal", "scale": {"domain": ["1st","2nd","3rd","5th"], "range": ["#555555","#e8353b","#2f9e5c","#2766b8"]},
      "legend": {"labelExpr": "datum.label == '1st' ? '1ˢᵗ' : datum.label == '2nd' ? '2ⁿᵈ' : datum.label == '3rd' ? '3ʳᵈ' : '5ᵗʰ'", "encoding": {"labels": {"fill": {"condition": [{"test": "datum.value == '2nd'", "value": "#e8474d"},{"test": "datum.value == '3rd'", "value": "#3aa86a"},{"test": "datum.value == '5th'", "value": "#3a78c8"}], "value": "#8a8a8a"}}}}},
    "detail": {"field": "s"}}},
  {"data": {"values": [{"label": "MTP1200"}]}, "mark": {"type": "text", "fontSize": 18, "fill": "#ea3a88"}, "encoding": {"text": {"field": "label"}, "x": {"datum": 353}, "y": {"datum": 0.7}}}
 ]},
{"width": 287, "height": 212, "title": "(f)", "transform": [{"filter": "datum.p == 'f'"}],
 "layer": [
  {"mark": {"type": "line", "strokeWidth": 1.2, "interpolate": "catmull-rom"},
   "encoding": {
    "x": {"field": "x", "type": "quantitative", "scale": {"domain": [-10, 502], "nice": false, "zero": false}, "axis": {"title": "Capacity/(mAh g⁻¹)", "values": [0,100,200,300,400,500]}},
    "y": {"field": "y", "type": "quantitative", "scale": {"domain": [-0.14, 3.1], "nice": false, "zero": false}, "axis": {"title": "Potential/V vs. K⁺/K", "values": [0,0.5,1,1.5,2,2.5,3], "format": ".1f"}},
    "stroke": {"field": "c", "type": "nominal", "scale": {"domain": ["1st","2nd","3rd","5th"], "range": ["#555555","#e8353b","#2f9e5c","#2766b8"]},
      "legend": {"labelExpr": "datum.label == '1st' ? '1ˢᵗ' : datum.label == '2nd' ? '2ⁿᵈ' : datum.label == '3rd' ? '3ʳᵈ' : '5ᵗʰ'", "encoding": {"labels": {"fill": {"condition": [{"test": "datum.value == '2nd'", "value": "#e8474d"},{"test": "datum.value == '3rd'", "value": "#3aa86a"},{"test": "datum.value == '5th'", "value": "#3a78c8"}], "value": "#8a8a8a"}}}}},
    "detail": {"field": "s"}}},
  {"data": {"values": [{"label": "MTP1400"}]}, "mark": {"type": "text", "fontSize": 18, "fill": "#3a7cc8"}, "encoding": {"text": {"field": "label"}, "x": {"datum": 371}, "y": {"datum": 0.7}}}
 ]}
],
"config": {
 "font": "Liberation Sans",
 "view": {"stroke": "#333333", "strokeWidth": 1},
 "axis": {"domain": false, "grid": false, "ticks": true, "tickSize": -4, "tickColor": "#333333", "labelFontSize": 18, "labelColor": "#333333", "labelFont": "Liberation Sans", "labelFlush": false, "labelOverlap": false, "labelPadding": 13, "titleFont": "Liberation Sans", "titleFontSize": 18.5, "titleFontWeight": "normal", "titleColor": "#333333"},
 "axisX": {"titlePadding": 9, "labelPadding": 9},
 "axisY": {"titlePadding": 11},
 "title": {"anchor": "start", "frame": "bounds", "fontSize": 16.5, "fontWeight": "normal", "font": "Liberation Sans", "color": "#222222", "offset": -9, "dx": -9},
 "legend": {"orient": "top-right", "title": null, "symbolType": "M-4,0H1", "symbolSize": 230, "symbolStrokeWidth": 1.4, "labelFontSize": 16, "labelFont": "Liberation Sans", "labelOffset": 4, "rowPadding": 0, "offset": 10}
}
}
